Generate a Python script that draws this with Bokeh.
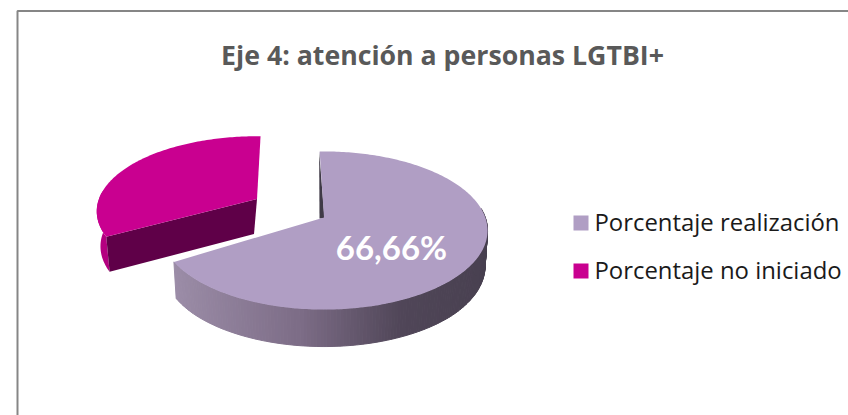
import math
from bokeh.plotting import figure
from bokeh.embed import file_html
from bokeh.resources import INLINE
from bokeh.core.properties import value as fontv

# ---- data ----
title_text = "Eje 4: atención a personas LGTBI+"
categories = ["Porcentaje realización", "Porcentaje no iniciado"]
shares = [66.66, 33.34]
data_labels = ["66,66%"]
top_colors = ["#B09EC4", "#C90090"]
rim_stops = [(174, (155, 140, 167)), (300, (124, 108, 134)), (400, (80, 70, 88)), (488, (72, 64, 80))]
pink_rim = "#B40080"
pink_wall = "#5F0048"
sliver_color = "#3F3A46"

W, H = 848, 415
p = figure(width=W, height=H, x_range=(0, W), y_range=(H, 0), output_backend="svg",
           toolbar_location=None, min_border=0, outline_line_color=None, background_fill_color="white",
           border_fill_color="white")
p.xaxis.visible = False
p.yaxis.visible = False
p.grid.visible = False

# frame of the chart area
p.line([17, 17, 848], [415, 10.5, 10.5], line_color="#868686", line_width=2)

# projection of the tilted disc
RX, RY, K = 161.3, 76.9, 0.1646
START = 91.8
START2 = 88.5


def proj(ax, ay, deg, sx=1.0, sy=1.0):
    a = math.radians(deg)
    c, s = math.cos(a), math.sin(a)
    w = 1 + K * s
    x = ax + sx * RX * c / w
    y = ay - sy * RY * s / w
    return x, y


def lerp_color(x):
    st = rim_stops
    if x <= st[0][0]:
        r = st[0][1]
    elif x >= st[-1][0]:
        r = st[-1][1]
    else:
        for (x0, c0), (x1, c1) in zip(st, st[1:]):
            if x0 <= x <= x1:
                t = (x - x0) / (x1 - x0)
                r = tuple(c0[i] + t * (c1[i] - c0[i]) for i in range(3))
                break
    return "#%02x%02x%02x" % tuple(int(round(v)) for v in r)


sweep = [v / sum(shares) * 360 for v in shares]

# ---- main slice (first share), clockwise from START ----
ax1, ay1 = 323.5, 217
angles1 = [START - sweep[0] * i / 240 for i in range(241)]
arc1 = [proj(ax1, ay1, d) for d in angles1]


def drop1(pt):
    x, y = pt
    depth = 37 - 4 * max(0, (ay1 + 60 - y)) / 60 * 0.5
    return ax1 + (x - ax1) * 0.985, y + depth


xs1, ys1, cols = [], [], []
front = [pt for pt, d in zip(arc1, angles1) if math.sin(math.radians(d)) < 0.12]
for a, b in zip(front, front[1:]):
    da, db = drop1(a), drop1(b)
    xs1.append([a[0], b[0], db[0], da[0]])
    ys1.append([a[1], b[1], db[1], da[1]])
    cols.append(lerp_color((a[0] + b[0]) / 2))
p.patches(xs1, ys1, fill_color=cols, line_color=cols, line_width=1)

st = arc1[0]
p.patch([st[0] - 0.5, ax1 + 0.5, ax1 - 4.5], [st[1], ay1 + 1, ay1 + 1], fill_color=sliver_color, line_color=None)
p.patch([ax1] + [q[0] for q in arc1], [ay1] + [q[1] for q in arc1], fill_color=top_colors[0], line_color=None)

# ---- detached slice (second share) ----
ax2, ay2 = 256.5, 198.5
angles2 = [START2 + sweep[1] * i / 120 for i in range(121)]
arc2 = [proj(ax2, ay2, d, sx=0.98, sy=0.95) for d in angles2]


def drop2(pt):
    x, y = pt
    return ax2 - 3 + (x - ax2) * 0.958, y + 35


vis = [q for q, d in zip(arc2, angles2) if d > 172]
rim_poly = vis + [drop2(q) for q in reversed(vis)]
p.patch([q[0] for q in rim_poly], [q[1] for q in rim_poly], fill_color=pink_rim, line_color=None)
e2 = arc2[-1]
wall = [(ax2, ay2), e2, drop2(e2), drop2((ax2, ay2))]
p.patch([q[0] for q in wall], [q[1] for q in wall], fill_color=pink_wall, line_color=None)
p.patch([ax2] + [q[0] for q in arc2], [ay2] + [q[1] for q in arc2], fill_color=top_colors[1], line_color=None)

# ---- texts ----
p.text([442], [54], text=[title_text], text_font=fontv("Open Sans"), text_font_style="bold",
       text_font_size="26.7px", text_color="#595959", text_align="center", text_baseline="middle")
p.text([391], [246], text=data_labels, text_font=fontv("Lato"), text_font_style="bold",
       text_font_size="33px", text_color="white", text_align="center", text_baseline="middle")

# legend
for cat, col, yy, ty in zip(categories, top_colors, [222.5, 270.5], [221, 269]):
    p.rect([580.5], [yy], width=15, height=15, fill_color=col, line_color=None)
    p.text([594], [ty], text=[cat], text_font=fontv("Open Sans"), text_font_size="23.9px",
           text_color="#1a1a1a", text_align="left", text_baseline="middle")

open("out.html", "w").write(file_html(p, INLINE))
